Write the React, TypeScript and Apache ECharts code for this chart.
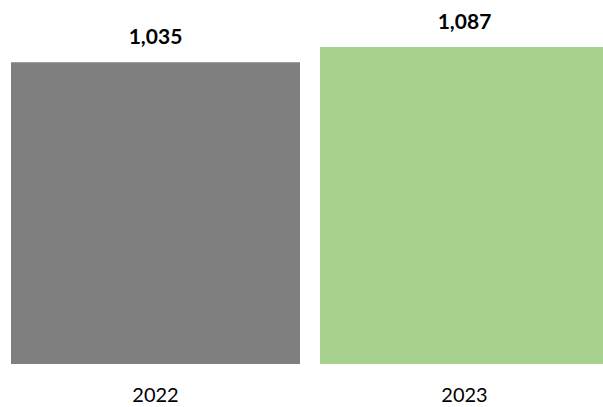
import React, { useEffect, useRef } from "react";
import * as echarts from "echarts";

const categories = ["2022", "2023"];
const values = [1035, 1087];
const barColors = ["#7f7f7f", "#a9d18e"];

export default function App() {
  const ref = useRef<HTMLDivElement>(null);
  useEffect(() => {
    if (!ref.current) return;
    const chart = echarts.init(ref.current, undefined, { renderer: "svg" });
    chart.setOption({
      animation: false,
      grid: { left: 1, width: 618, top: 14, height: 350, containLabel: false, outerBoundsMode: "none" },
      xAxis: {
        type: "category",
        data: categories,
        axisLine: { show: false },
        axisTick: { show: false },
        axisLabel: {
          color: "#000",
          fontFamily: "Lato",
          fontSize: 20,
          margin: 20,
        },
      },
      yAxis: {
        type: "value",
        min: 0,
        max: 1200,
        show: false,
        splitLine: { show: false },
      },
      series: [
        {
          type: "bar",
          barWidth: 289,
          data: values.map((v, i) => ({ value: v, itemStyle: { color: barColors[i] } })),
          label: {
            show: true,
            position: "top",
            distance: 16,
            color: "#000",
            fontFamily: "Lato",
            fontWeight: "bold",
            fontSize: 21,
            formatter: (p: any) => p.value.toLocaleString("en-US"),
          },
        },
      ],
    });
    return () => chart.dispose();
  }, []);
  return <div ref={ref} style={{ width: 603, height: 407, position: "absolute", left: 0, top: 0 }} />;
}
